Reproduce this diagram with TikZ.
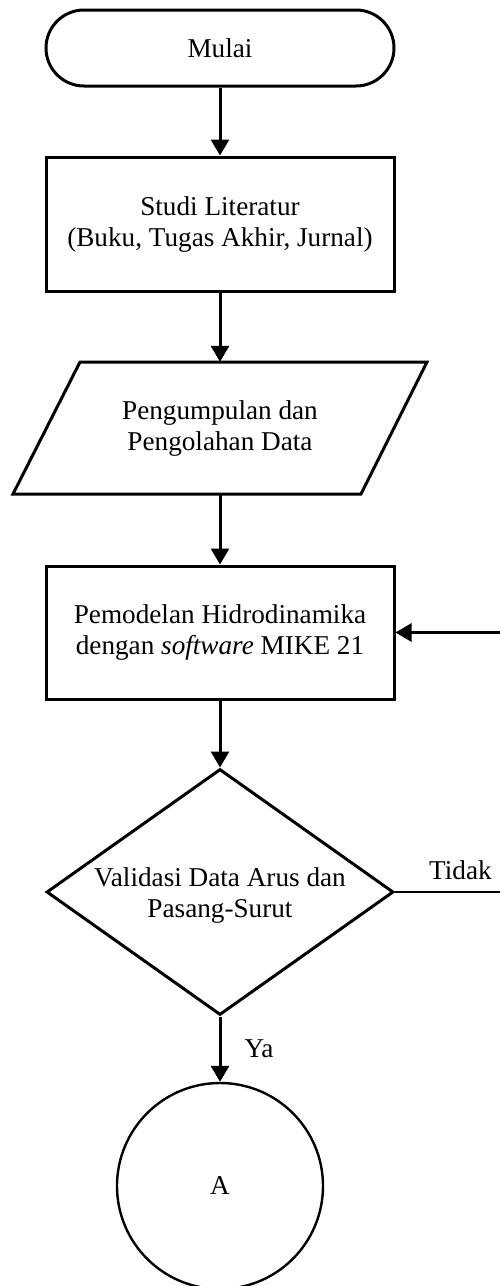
\documentclass[tikz,border=0pt]{standalone}
\usepackage{fontspec}
\setmainfont{Liberation Serif}
\usetikzlibrary{arrows.meta,shapes.geometric}
\begin{document}
\begin{tikzpicture}[x=1pt,y=-1pt,
  every node/.style={font=\fontsize{27.2}{31}\selectfont},
  term/.style={draw,line width=3pt,rounded corners=38pt,minimum width=348pt,minimum height=76pt,inner sep=0pt},
  procbox/.style={draw,line width=3pt,minimum width=348pt,align=center,inner sep=0pt},
  decision/.style={diamond,draw,line width=3pt,minimum width=347pt,minimum height=246pt,inner sep=0pt},
  connector/.style={circle,draw,line width=2.4pt,minimum size=206pt,inner sep=0pt},
  flow/.style={line width=3pt,-{Triangle[width=18pt,length=16pt]}},
  plainline/.style={line width=2.4pt},
]
\useasboundingbox (0,0) rectangle (500,1286);

\node[term] (start) at (220,48) {Mulai};
\node[procbox,minimum height=134pt] (lit) at (220,224) {Studi Literatur\\(Buku, Tugas Akhir, Jurnal)};
\node[minimum width=347pt,minimum height=132pt,align=center,inner sep=0pt] (data) at (220,428) {Pengumpulan dan\\Pengolahan Data};
\draw[line width=3pt,line join=miter] (80,362) -- (427,362) -- (361,494) -- (13,494) -- cycle;
\node[procbox,minimum height=133pt] (model) at (220,632.5) {Pemodelan Hidrodinamika\\dengan \textit{software} MIKE 21};
\node[decision,label={[align=center,yshift=-3pt]center:Validasi Data Arus dan\\Pasang-Surut}] (valid) at (220,892) {};
\node[connector] (A) at (220,1186) {A};

\draw[flow] (start) -- (lit);
\draw[flow] (lit) -- (data);
\draw[flow] (data) -- (model);
\draw[flow] (model) -- (valid);
\draw[flow] (valid) -- node[midway,anchor=west,inner sep=0pt,xshift=23pt] {Ya} (A);

\coordinate (loop) at (514,0);
\draw[plainline] (valid.east) -- node[pos=0.55,anchor=south,inner sep=0pt,yshift=11pt] {Tidak} (valid.east -| loop) -- (model.east -| loop);
\draw[flow] (model.east -| loop) -- (model.east);
\end{tikzpicture}
\end{document}
